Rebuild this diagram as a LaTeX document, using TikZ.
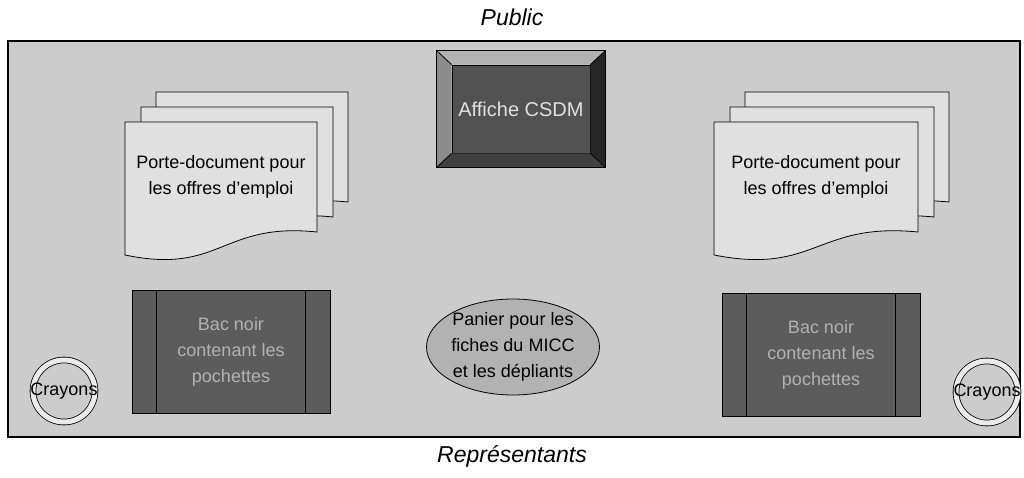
\documentclass[tikz,border=0pt]{standalone}
\usepackage{fontspec}
\setmainfont{Liberation Sans}
\usepackage{tikz}
\usetikzlibrary{shapes}
\tikzset{
	frame/.style    = {draw, line width = 1.6pt, fill = black!20},
	sheet/.style    = {draw, fill = black!12},
	doctext/.style  = {align = center, font = \fontsize{18}{26}\selectfont},
	affiche/.style  = {draw, fill = black!68, minimum width = 138pt,
		minimum height = 88pt, text = black!12, font = \fontsize{20}{26}\selectfont},
	bac/.style      = {draw, fill = black!64, minimum width = 198pt,
		minimum height = 123pt, text = black!30, align = center,
		font = \fontsize{18}{26}\selectfont},
	panier/.style   = {draw, ellipse, fill = black!30, minimum width = 173pt,
		minimum height = 96pt}, 
	crayon/.style   = {draw, circle, double = black!8, double distance = 5pt,
		minimum size = 62pt, inner sep = 0pt},
	title/.style    = {font = \fontsize{23}{26}\selectfont\itshape}
}
% one sheet: x, y, width
\newcommand{\docsheet}[3]{
	\draw[sheet] (#1,#2) -- ++(#3,0) -- ++(0,110)
		.. controls +(-0.5*#3,-10) and +(0.5*#3,20) .. (#1,#2+133) -- cycle;
}
% stack of three sheets: name, x, y, width
\newcommand{\docstack}[4]{
	\docsheet{#2+31}{#3-30}{#4}
	\docsheet{#2+16}{#3-15}{#4}
	\docsheet{#2}{#3}{#4}
	\node[doctext] (#1) at (#2+0.5*#4,#3+55) {Porte-document pour\\les offres d'emploi};
}
\newcommand{\bevel}{15pt}

\begin{document}
\begin{tikzpicture}[x = 1pt, y = -1pt, thick]
	\useasboundingbox (0,0) rectangle (1024,478);
	\fill[white] (0,0) rectangle (1024,478);
	\draw[frame] (8,41) rectangle (1020,437);
	
	\node[title] (pub) at (512,17) {Public};
	\node[title] (rep) at (512,456) {Représentants};
	
	\docstack{pd1}{125}{122}{192}
	\docstack{pd2}{714}{122}{204}
	
	\node[affiche] (aff) at (521,109) {Affiche CSDM};
	\fill[black!30] (aff.north west) -- ([shift={(-\bevel,14pt)}]aff.north west)
		-- ([shift={(\bevel,14pt)}]aff.north east) -- (aff.north east) -- cycle;
	\fill[black!45] (aff.north west) -- ([shift={(-\bevel,14pt)}]aff.north west)
		-- ([shift={(-\bevel,-14pt)}]aff.south west) -- (aff.south west) -- cycle;
	\fill[black!85] (aff.north east) -- ([shift={(\bevel,14pt)}]aff.north east)
		-- ([shift={(\bevel,-14pt)}]aff.south east) -- (aff.south east) -- cycle;
	\fill[black!75] (aff.south west) -- ([shift={(-\bevel,-14pt)}]aff.south west)
		-- ([shift={(\bevel,-14pt)}]aff.south east) -- (aff.south east) -- cycle;
	\draw ([shift={(-\bevel,14pt)}]aff.north west) rectangle ([shift={(\bevel,-14pt)}]aff.south east);
	\draw (aff.north west) -- ([shift={(-\bevel,14pt)}]aff.north west);
	\draw (aff.north east) -- ([shift={(\bevel,14pt)}]aff.north east);
	\draw (aff.south west) -- ([shift={(-\bevel,-14pt)}]aff.south west);
	\draw (aff.south east) -- ([shift={(\bevel,-14pt)}]aff.south east);
	
	\node[bac] (bac1) at (231,352) {Bac noir\\contenant les\\pochettes};
	\node[bac] (bac2) at (821,355) {Bac noir\\contenant les\\pochettes};
	\draw ([xshift=25pt]bac1.north west) -- ([xshift=25pt]bac1.south west);
	\draw ([xshift=-25pt]bac1.north east) -- ([xshift=-25pt]bac1.south east);
	\draw ([xshift=25pt]bac2.north west) -- ([xshift=25pt]bac2.south west);
	\draw ([xshift=-25pt]bac2.north east) -- ([xshift=-25pt]bac2.south east);
	
	\node[panier] (pan) at (513,347) {};
	\node[doctext] (pantxt) at (pan) {Panier pour les\\fiches du MICC\\et les dépliants};
	
	\node[crayon] (cr1) at (64,391) {};
	\node[doctext] (cr1txt) at (cr1) {Crayons};
	\node[crayon] (cr2) at (987,392) {};
	\node[doctext] (cr2txt) at (cr2) {Crayons};
\end{tikzpicture}
\end{document}
